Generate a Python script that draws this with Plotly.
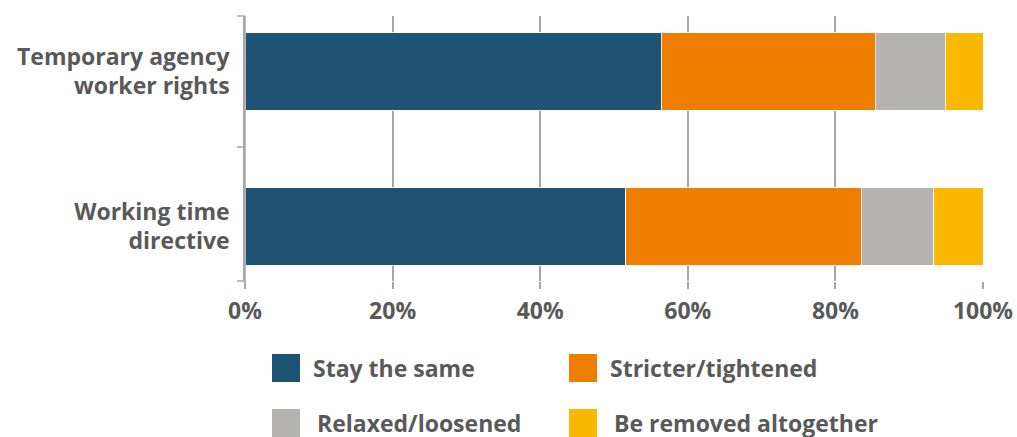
import plotly.graph_objects as go

categories = ["Temporary agency<br>worker rights", "Working time<br>directive"]
series_names = ["Stay the same", "Stricter/tightened", "Relaxed/loosened", "Be removed altogether"]
stay_same = [56.4, 51.6]
stricter = [29.0, 31.9]
relaxed = [9.5, 9.8]
removed = [5.1, 6.7]
x_tick_vals = [0, 20, 40, 60, 80, 100]
x_tick_text = ["0%", "20%", "40%", "60%", "80%", "100%"]

colors = ["#1E5373", "#EF7D00", "#B4B3B1", "#FAB900"]
values = [stay_same, stricter, relaxed, removed]

W, H = 1017, 437
L, R, T, B = 245, 34, 16, 156
pw, ph = W - L - R, H - T - B
text_color = "#595959"
grid_color = "#A6A6A6"
FONT = "Open Sans"

fig = go.Figure()
for name, vals, col in zip(series_names, values, colors):
    fig.add_trace(go.Bar(
        y=categories, x=vals, name=name, orientation="h",
        marker=dict(color=col, line=dict(color="rgba(255,255,255,0.8)", width=1)),
        showlegend=False,
    ))

def px_x(x):
    return (x - L) / pw

def px_y(y):
    return (H - B - y) / ph

shapes = []
annotations = []

# y-axis boundary ticks (drawn as short lines left of the axis)
for py in (16, 147, 281):
    shapes.append(dict(type="line", xref="paper", yref="paper",
                       x0=px_x(L - 8), x1=px_x(L), y0=px_y(py), y1=px_y(py),
                       line=dict(color=grid_color, width=1.5)))
# axis line extension below plot area
shapes.append(dict(type="line", xref="paper", yref="paper",
                   x0=0, x1=0, y0=px_y(T), y1=px_y(288),
                   line=dict(color=grid_color, width=1.5)))

# custom legend (squares + labels)
legend_pos = [(272, 368), (569, 368), (272, 423), (569, 423)]
text_off = [39, 39, 43, 43]
for (lx, ly), name, col, off in zip(legend_pos, series_names, colors, text_off):
    shapes.append(dict(type="rect", xref="paper", yref="paper",
                       x0=px_x(lx), x1=px_x(lx + 28), y0=px_y(ly - 14), y1=px_y(ly + 14),
                       fillcolor=col, line=dict(width=0)))
    annotations.append(dict(text=name, xref="paper", yref="paper",
                            x=px_x(lx + off), y=px_y(ly), xanchor="left", yanchor="middle",
                            showarrow=False,
                            font=dict(family=FONT, size=23, weight="bold", color=text_color)))

# bar centres at 71.5px and 226.5px, plot area 16..281px
unit = 155.0
y_top = 0 - (71.5 - T) / unit
y_bot = 1 + ((H - B) - 226.5) / unit

fig.update_layout(
    barmode="stack",
    bargap=0.5,
    width=W, height=H,
    margin=dict(l=L, r=R, t=T, b=B),
    plot_bgcolor="white", paper_bgcolor="white",
    font=dict(family=FONT, size=23, color=text_color),
    shapes=shapes,
    annotations=annotations,
    xaxis=dict(
        range=[0, 100], tickvals=x_tick_vals, ticktext=x_tick_text,
        showgrid=True, gridcolor=grid_color, gridwidth=1.5,
        zeroline=False, showline=False, automargin=False,
        ticks="outside", ticklen=7, tickcolor=grid_color, tickwidth=1.5,
        ticklabelstandoff=2,
        tickfont=dict(family=FONT, size=23, weight="bold", color=text_color),
    ),
    yaxis=dict(
        type="category",
        categoryorder="array", categoryarray=categories,
        range=[y_bot, y_top],
        tickvals=categories, ticktext=categories,
        showline=True, linecolor=grid_color, linewidth=1.5,
        ticks="", showgrid=False, automargin=False,
        ticklabelstandoff=9,
        tickfont=dict(family=FONT, size=23, weight="bold", color=text_color),
    ),
)

fig.write_html("out.html")
